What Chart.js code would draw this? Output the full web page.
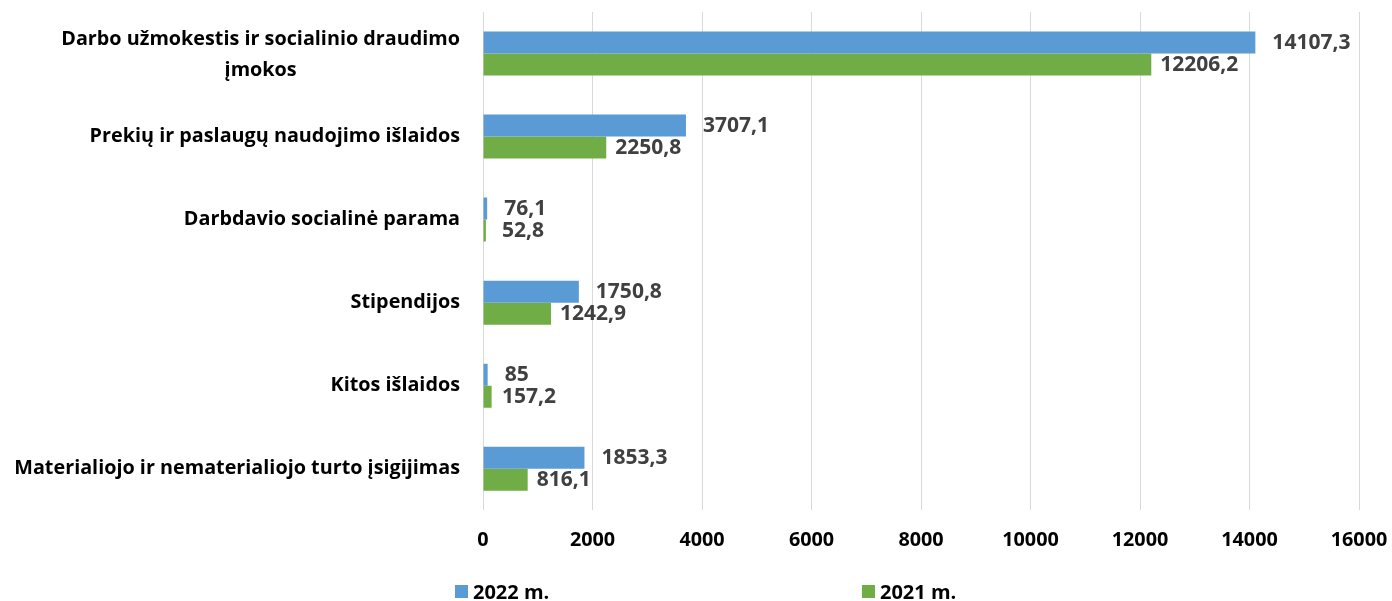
<!DOCTYPE html>
<html>
<head>
<meta charset="utf-8">
<script src="https://cdn.jsdelivr.net/npm/chart.js@4"></script>
<style>
  html, body { margin: 0; padding: 0; background: #fff; }
  #wrap { position: relative; width: 1392px; height: 601px; }
  #legend { position: absolute; top: 578px; left: 0; width: 1392px; height: 26px;
    font: bold 20px "Open Sans", sans-serif; color: #000; }
  .lg-item { position: absolute; top: 0; display: flex; align-items: center; }
  .lg-box { width: 13px; height: 13px; margin-right: 5px; }
</style>
</head>
<body>
<div id="wrap">
  <canvas id="chart" width="1392" height="601"></canvas>
  <div id="legend"></div>
</div>
<script>
const categories = [
  ['Darbo užmokestis ir socialinio draudimo', 'įmokos'],
  'Prekių ir paslaugų naudojimo išlaidos',
  'Darbdavio socialinė parama',
  'Stipendijos',
  'Kitos išlaidos',
  'Materialiojo ir nematerialiojo turto įsigijimas'
];
const values2022 = [14107.3, 3707.1, 76.1, 1750.8, 85, 1853.3];
const values2021 = [12206.2, 2250.8, 52.8, 1242.9, 157.2, 816.1];
const seriesNames = ['2022 m.', '2021 m.'];
const seriesColors = ['#5b9bd5', '#70ad47'];
const xTicks = [0, 2000, 4000, 6000, 8000, 10000, 12000, 14000, 16000];

const fontFamily = '"Open Sans", sans-serif';
const catSize = 19.8;
const catFont = { family: fontFamily, size: catSize, weight: 'bold' };

// labels at bar ends, comma as decimal sign
const valueLabels = {
  id: 'valueLabels',
  afterDatasetsDraw(chart) {
    const ctx = chart.ctx;
    const zeroX = chart.scales.x.getPixelForValue(0);
    ctx.save();
    ctx.font = 'bold 21px ' + fontFamily;
    ctx.fillStyle = '#404040';
    ctx.textBaseline = 'middle';
    ctx.textAlign = 'left';
    chart.data.datasets.forEach((ds, di) => {
      const off = di === 0 ? 17 : 9;
      chart.getDatasetMeta(di).data.forEach((el, i) => {
        const x = Math.max(el.x + off, zeroX + 19);
        ctx.fillText(String(ds.data[i]).replace('.', ','), x, el.y);
      });
    });
    ctx.restore();
  }
};

// wrapped category names are centred line by line, like Excel does
const wrappedLabels = {
  id: 'wrappedLabels',
  afterDraw(chart) {
    const y = chart.scales.y;
    const ctx = chart.ctx;
    ctx.save();
    ctx.font = 'bold ' + catSize + 'px ' + fontFamily;
    ctx.fillStyle = '#000';
    ctx.textAlign = 'center';
    ctx.textBaseline = 'middle';
    chart.data.labels.forEach((lab, i) => {
      if (!Array.isArray(lab)) return;
      const w = Math.max(...lab.map(s => ctx.measureText(s).width));
      const cx = y.right - 23 - w / 2;
      const lh = 31;
      const cy = y.getPixelForValue(i) + 1;
      lab.forEach((s, k) => {
        ctx.fillText(s, cx, cy + (k - (lab.length - 1) / 2) * lh);
      });
    });
    ctx.restore();
  }
};

const chart = new Chart(document.getElementById('chart'), {
  type: 'bar',
  data: {
    labels: categories,
    datasets: [
      { label: seriesNames[0], data: values2022, backgroundColor: seriesColors[0] },
      { label: seriesNames[1], data: values2021, backgroundColor: seriesColors[1] }
    ]
  },
  options: {
    indexAxis: 'y',
    responsive: false,
    animation: false,
    layout: { padding: { left: 14, right: 0, top: 12, bottom: 31 } },
    datasets: { bar: { categoryPercentage: 0.53, barPercentage: 1 } },
    plugins: { legend: { display: false }, tooltip: { enabled: false } },
    scales: {
      x: {
        min: 0,
        max: 16000,
        afterBuildTicks: axis => { axis.ticks = xTicks.map(v => ({ value: v })); },
        afterFit: s => { s.paddingRight = 33; s.paddingLeft = 0; },
        grid: { color: '#d9d9d9', lineWidth: 1, drawTicks: false },
        border: { display: false },
        ticks: {
          color: '#000', padding: 18, font: catFont,
          callback: v => String(v)
        }
      },
      y: {
        grid: { display: false },
        border: { display: false },
        afterFit: s => { s.paddingTop = 0; s.paddingBottom = 0; s.width = 469; },
        ticks: {
          padding: 15, font: catFont,
          color: c => Array.isArray(categories[c.index]) ? 'rgba(0,0,0,0)' : '#000'
        }
      }
    }
  },
  plugins: [valueLabels, wrappedLabels]
});

// legend spread under the plot like the original
const legendX = [455, 862];
const legendEl = document.getElementById('legend');
chart.data.datasets.forEach((ds, i) => {
  const item = document.createElement('div');
  item.className = 'lg-item';
  item.style.left = legendX[i] + 'px';
  item.innerHTML = '<span class="lg-box" style="background:' + ds.backgroundColor + '"></span>' + ds.label;
  legendEl.appendChild(item);
});
</script>
</body>
</html>
